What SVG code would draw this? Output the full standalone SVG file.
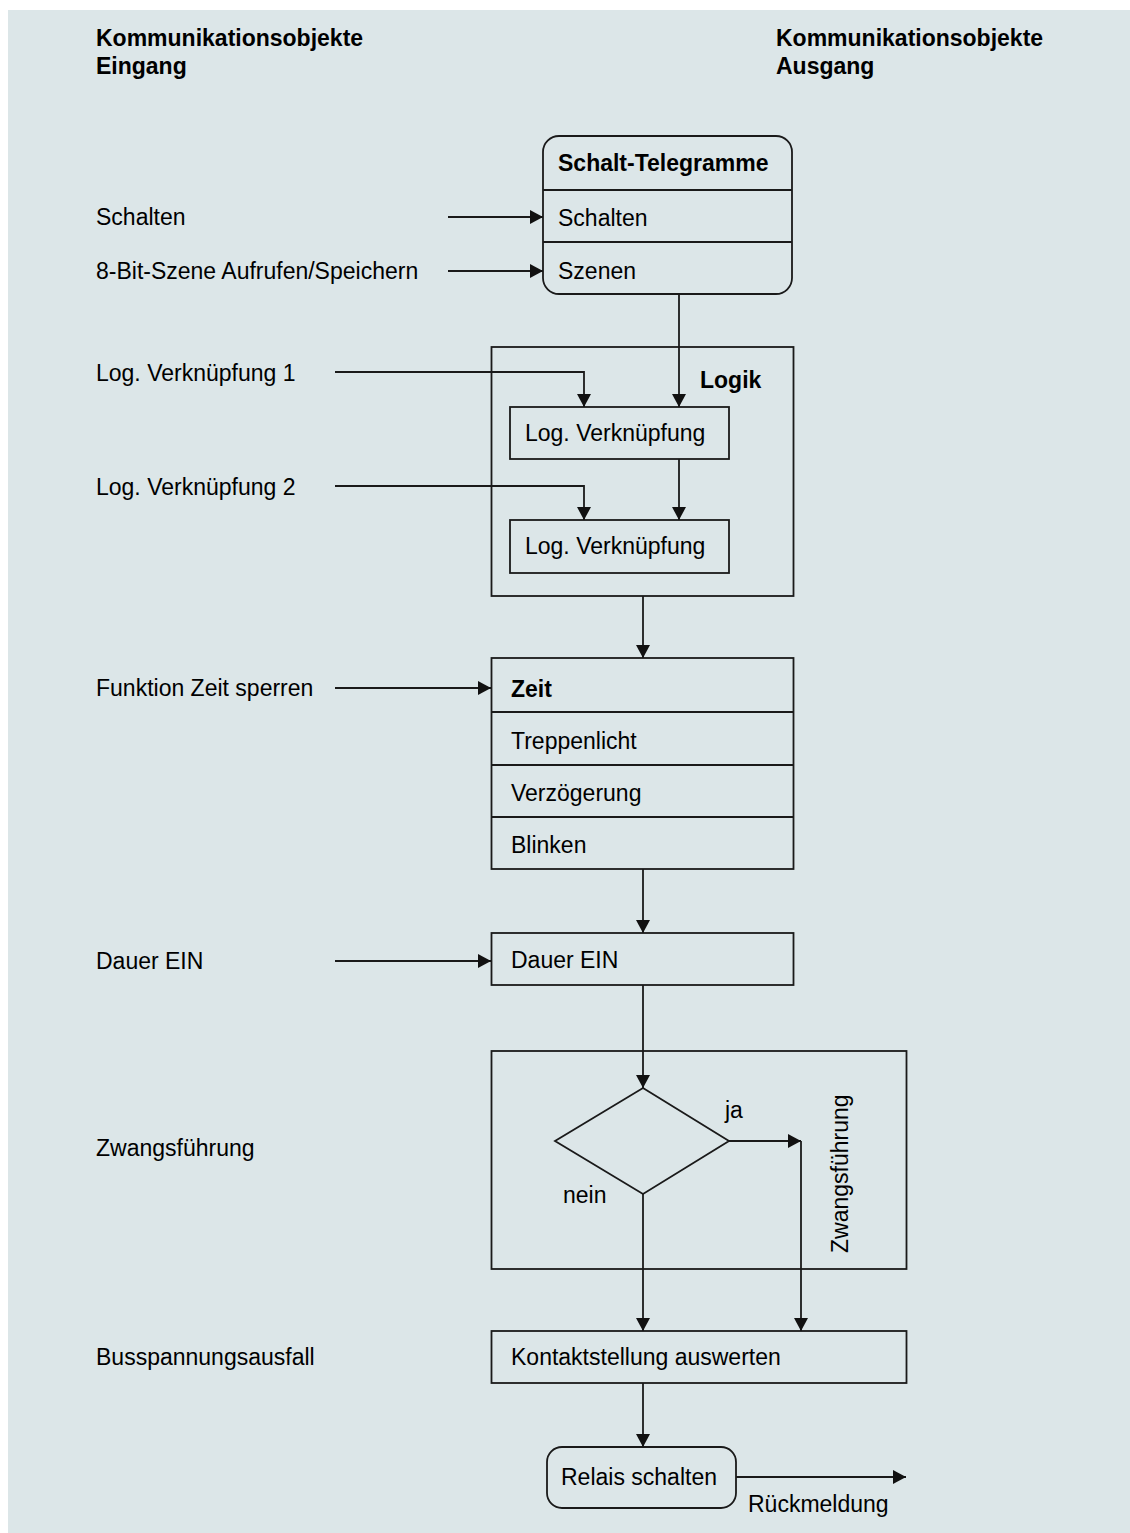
<svg xmlns="http://www.w3.org/2000/svg" width="1130" height="1533" viewBox="0 0 1130 1533">
<defs>
<style>
text{font-family:"Liberation Sans",Arial,Helvetica,sans-serif;font-size:23px;fill:#000}
.b{font-weight:bold}
.s{fill:none;stroke:#1a1a1a;stroke-width:1.8}
.c{fill:none;stroke:#1a1a1a;stroke-width:1.8;marker-end:url(#ah)}
</style>
<marker id="ah" markerUnits="userSpaceOnUse" markerWidth="15" markerHeight="15" refX="13" refY="7" orient="auto">
<path d="M0,0 L13,7 L0,14 z" fill="#111"/>
</marker>
</defs>
<rect x="0" y="0" width="1130" height="1533" fill="#ffffff"/>
<rect x="8" y="10" width="1122" height="1523" fill="#dce6e8"/>

<g id="headers">
<text class="b" x="96" y="46">Kommunikationsobjekte</text>
<text class="b" x="96" y="74">Eingang</text>
<text class="b" x="776" y="46">Kommunikationsobjekte</text>
<text class="b" x="776" y="74">Ausgang</text>
</g>

<g id="inputs">
<text x="96" y="225">Schalten</text>
<text x="96" y="279">8-Bit-Szene Aufrufen/Speichern</text>
<text x="96" y="381">Log. Verknüpfung 1</text>
<text x="96" y="495">Log. Verknüpfung 2</text>
<text x="96" y="696">Funktion Zeit sperren</text>
<text x="96" y="969">Dauer EIN</text>
<text x="96" y="1156">Zwangsführung</text>
<text x="96" y="1365">Busspannungsausfall</text>
</g>

<g id="schalt-telegramme">
<rect class="s" x="543" y="136" width="249" height="158" rx="16"/>
<line class="s" x1="543" y1="190" x2="792" y2="190"/>
<line class="s" x1="543" y1="242" x2="792" y2="242"/>
<text class="b" x="558" y="171">Schalt-Telegramme</text>
<text x="558" y="226">Schalten</text>
<text x="558" y="279">Szenen</text>
</g>

<g id="logik">
<rect class="s" x="491.5" y="347" width="302" height="249"/>
<text class="b" x="700" y="388">Logik</text>
</g>
<g id="logv1">
<rect class="s" x="510" y="407" width="219" height="52"/>
<text x="525" y="441">Log. Verknüpfung</text>
</g>
<g id="logv2">
<rect class="s" x="510" y="520" width="219" height="53"/>
<text x="525" y="554">Log. Verknüpfung</text>
</g>

<g id="zeit">
<rect class="s" x="491.5" y="658" width="302" height="211"/>
<line class="s" x1="491.5" y1="712" x2="793.5" y2="712"/>
<line class="s" x1="491.5" y1="765" x2="793.5" y2="765"/>
<line class="s" x1="491.5" y1="817" x2="793.5" y2="817"/>
<text class="b" x="511" y="697">Zeit</text>
<text x="511" y="749">Treppenlicht</text>
<text x="511" y="801">Verzögerung</text>
<text x="511" y="853">Blinken</text>
</g>

<g id="dauer-ein">
<rect class="s" x="491.5" y="933" width="302" height="52"/>
<text x="511" y="968">Dauer EIN</text>
</g>

<g id="zwangsfuehrung">
<rect class="s" x="491.5" y="1051" width="415" height="218"/>
<polygon class="s" points="643,1088 729,1141 643,1194 555,1141"/>
<text x="725" y="1118">ja</text>
<text x="563" y="1203">nein</text>
<text transform="translate(848,1253) rotate(-90)">Zwangsführung</text>
</g>

<g id="kontaktstellung">
<rect class="s" x="491.5" y="1331" width="415" height="52"/>
<text x="511" y="1365">Kontaktstellung auswerten</text>
</g>

<g id="relais">
<rect class="s" x="547" y="1447" width="189" height="61" rx="15"/>
<text x="561" y="1485">Relais schalten</text>
<text x="748" y="1512">Rückmeldung</text>
</g>

<g id="connectors">
<line class="c" x1="448" y1="217" x2="543" y2="217"/>
<line class="c" x1="448" y1="271" x2="543" y2="271"/>
<line class="c" x1="679" y1="294" x2="679" y2="407"/>
<polyline class="c" points="335,372 584,372 584,407"/>
<polyline class="c" points="335,486 584,486 584,520"/>
<line class="c" x1="679" y1="459" x2="679" y2="520"/>
<line class="c" x1="643" y1="596" x2="643" y2="658"/>
<line class="c" x1="335" y1="688" x2="491" y2="688"/>
<line class="c" x1="643" y1="869" x2="643" y2="933"/>
<line class="c" x1="335" y1="961" x2="491" y2="961"/>
<line class="c" x1="643" y1="985" x2="643" y2="1088"/>
<line class="c" x1="729" y1="1141" x2="801" y2="1141"/>
<line class="c" x1="801" y1="1141" x2="801" y2="1331"/>
<line class="c" x1="643" y1="1194" x2="643" y2="1331"/>
<line class="c" x1="643" y1="1383" x2="643" y2="1447"/>
<line class="c" x1="736" y1="1477" x2="906" y2="1477"/>
</g>
</svg>
